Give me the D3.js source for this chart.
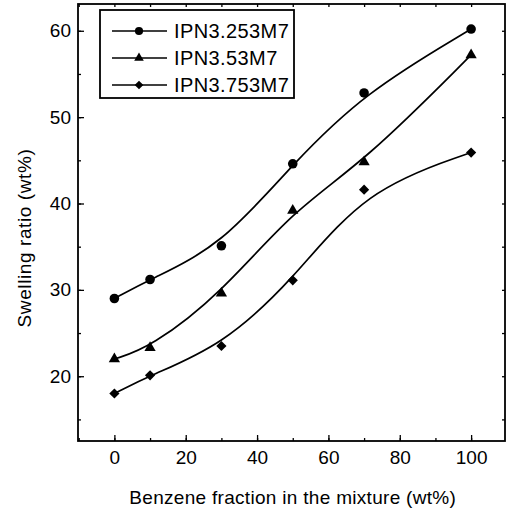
<!DOCTYPE html>
<html>
<head>
<meta charset="utf-8">
<script src="https://cdn.jsdelivr.net/npm/d3@7"></script>
<style>
body { margin: 0; background: #fff; }
text { font-family: "Liberation Sans", Arial, sans-serif; fill: #000; }
</style>
</head>
<body>
<svg id="chart"></svg>
<script>
var W = 509, H = 512;
var margin = {top: 4, right: 4, bottom: 71, left: 78};

// data
var fractions = [0, 10, 30, 50, 70, 100];
var seriesNames = ['IPN3.253M7', 'IPN3.53M7', 'IPN3.753M7'];
var ipn253 = [29.0, 31.2, 35.1, 44.6, 52.8, 60.2];
var ipn53 = [22.0, 23.3, 29.6, 39.2, 44.8, 57.2];
var ipn753 = [18.0, 20.1, 23.5, 31.1, 41.6, 45.9];
var xTicks = [0, 20, 40, 60, 80, 100];
var yTicks = [20, 30, 40, 50, 60];

var allSeries = [ipn253, ipn53, ipn753];

var svg = d3.select('#chart')
	.attr('width', W)
	.attr('height', H);

var x = d3.scaleLinear()
	.domain([-10.2, 109.5])
	.range([margin.left, W - margin.right]);

var y = d3.scaleLinear()
	.domain([12.5, 63.1])
	.range([H - margin.bottom, margin.top]);

// marker drawers: circle, triangle, square turned 45deg
function marker(g, k, s) {
	if (k === 0) {
		g.append('circle').attr('r', 4.8 * s).attr('fill', '#000');
	} else if (k === 1) {
		g.append('path').attr('d', d3.symbol().type(d3.symbolTriangle).size(55 * s * s)).attr('fill', '#000');
	} else {
		g.append('path').attr('d', d3.symbol().type(d3.symbolSquare).size(52 * s * s))
			.attr('transform', 'rotate(45)').attr('fill', '#000');
	}
}

// axes with inward ticks on all four sides
var xMinor = d3.range(-10, 110, 10);
var yMinor = d3.range(15, 63, 5);

function noDomain(g) { g.select('.domain').remove(); }

svg.append('g')
	.attr('transform', 'translate(0,' + (H - margin.bottom) + ')')
	.call(d3.axisBottom(x).tickValues(xMinor).tickSize(-3).tickFormat(''))
	.call(noDomain);
svg.append('g')
	.attr('class', 'lab')
	.attr('transform', 'translate(0,' + (H - margin.bottom) + ')')
	.call(d3.axisBottom(x).tickValues(xTicks).tickSize(-6).tickPadding(10))
	.call(noDomain);
svg.append('g')
	.attr('transform', 'translate(0,' + margin.top + ')')
	.call(d3.axisTop(x).tickValues(xMinor).tickSize(-3).tickFormat(''))
	.call(noDomain);

svg.append('g')
	.attr('transform', 'translate(' + margin.left + ',0)')
	.call(d3.axisLeft(y).tickValues(yMinor).tickSize(-3).tickFormat(''))
	.call(noDomain);
svg.append('g')
	.attr('class', 'lab')
	.attr('transform', 'translate(' + margin.left + ',0)')
	.call(d3.axisLeft(y).tickValues(yTicks).tickSize(-6).tickPadding(7))
	.call(noDomain);
svg.append('g')
	.attr('transform', 'translate(' + (W - margin.right) + ',0)')
	.call(d3.axisRight(y).tickValues(yMinor).tickSize(-3).tickFormat(''))
	.call(noDomain);

svg.selectAll('.tick line').attr('stroke', '#000').attr('stroke-width', 1.3);
svg.selectAll('.lab .tick text')
	.style('font-size', '19px')
	.style('font-family', '"Liberation Sans", Arial, sans-serif');

// frame
svg.append('rect')
	.attr('x', margin.left)
	.attr('y', margin.top)
	.attr('width', W - margin.left - margin.right)
	.attr('height', H - margin.top - margin.bottom)
	.attr('fill', 'none')
	.attr('stroke', '#000')
	.attr('stroke-width', 1.8);

// fitted curves
var line = d3.line()
	.x(function(d, i) { return x(fractions[i]); })
	.y(function(d) { return y(d); })
	.curve(d3.curveBasis);

allSeries.forEach(function(s, k) {
	svg.append('path')
		.attr('d', line(s))
		.attr('fill', 'none')
		.attr('stroke', '#000')
		.attr('stroke-width', 1.7);

	s.forEach(function(v, i) {
		var g = svg.append('g')
			.attr('transform', 'translate(' + x(fractions[i]) + ',' + y(v) + ')');
		marker(g, k, 1);
	});
});

// legend
var legend = svg.append('g');
legend.append('rect')
	.attr('x', 100).attr('y', 10)
	.attr('width', 194).attr('height', 88)
	.attr('fill', '#fff')
	.attr('stroke', '#000')
	.attr('stroke-width', 1.8);

seriesNames.forEach(function(name, k) {
	var ly = 31 + k * 27;
	legend.append('line')
		.attr('x1', 112).attr('x2', 167)
		.attr('y1', ly).attr('y2', ly)
		.attr('stroke', '#000').attr('stroke-width', 1.3);
	var g = legend.append('g').attr('transform', 'translate(139,' + ly + ')');
	marker(g, k, 0.85);
	legend.append('text')
		.attr('x', 174).attr('y', ly)
		.attr('dy', '0.36em')
		.style('font-size', '20px')
		.style('letter-spacing', '0.4px')
		.text(name);
});

// axis titles
svg.append('text')
	.attr('x', (x(0) + x(100)) / 2)
	.attr('y', 504)
	.attr('text-anchor', 'middle')
	.style('font-size', '19px')
	.style('letter-spacing', '0.3px')
	.text('Benzene fraction in the mixture (wt%)');

svg.append('text')
	.attr('transform', 'translate(24,' + y(36) + ') rotate(-90)')
	.attr('text-anchor', 'middle')
	.attr('dy', '0.36em')
	.style('font-size', '19px')
	.style('letter-spacing', '0.6px')
	.text('Swelling ratio (wt%)');
</script>
</body>
</html>
